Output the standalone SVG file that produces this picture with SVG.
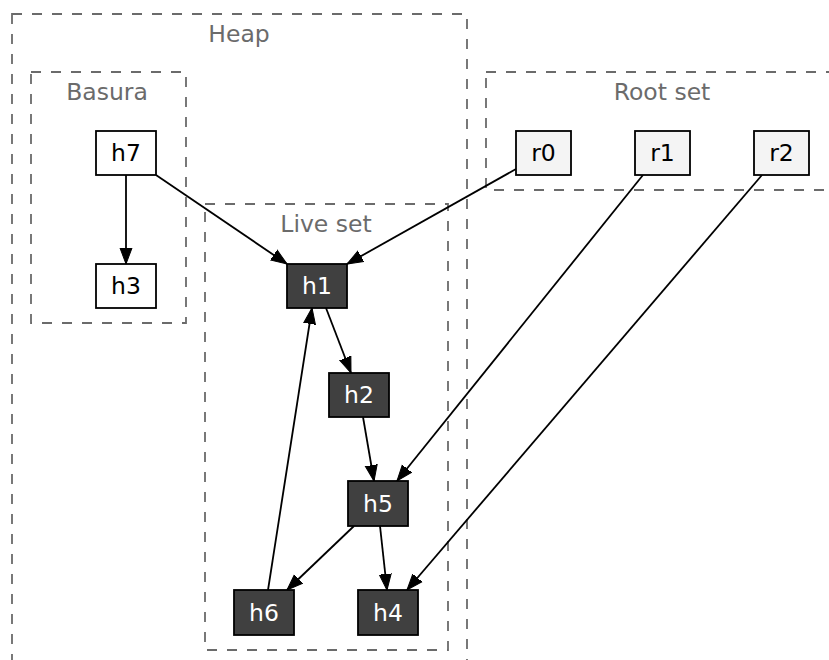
<svg xmlns="http://www.w3.org/2000/svg" width="829" height="660" viewBox="0 0 829 660">
<style>
.cl{fill:none;stroke:#6b6b6b;stroke-width:1.8;stroke-dasharray:10,10}
.cll{font-family:"DejaVu Sans",sans-serif;font-size:23.5px;fill:#6b6b6b;text-anchor:middle}
.n rect{stroke:#000;stroke-width:1.8}
.n text{font-family:"DejaVu Sans",sans-serif;font-size:23.5px;text-anchor:middle}
.w rect{fill:#fff}.w text{fill:#000}
.r rect{fill:#f4f4f4}.r text{fill:#000}
.d rect{fill:#404040}.d text{fill:#fff}
.e line{stroke:#000;stroke-width:1.8;marker-end:url(#ah)}
</style>
<defs>
<marker id="ah" markerUnits="userSpaceOnUse" markerWidth="20" markerHeight="16" refX="16" refY="0" viewBox="0 -8 20 16" orient="auto">
<path d="M0,-6 L16,0 L0,6 z" fill="#000" stroke="#000" stroke-width="1"/>
</marker>
</defs>
<rect width="829" height="660" fill="#fff"/>
<g id="clusters">
<g id="heap"><rect class="cl" x="12" y="14" width="455" height="680"/><text class="cll" x="239" y="42">Heap</text></g>
<g id="basura"><rect class="cl" x="31" y="72" width="155" height="251"/><text class="cll" x="107" y="100">Basura</text></g>
<g id="liveset"><rect class="cl" x="205" y="204" width="243" height="446"/><text class="cll" x="326" y="232">Live set</text></g>
<g id="rootset"><rect class="cl" x="486" y="72" width="380" height="118"/><text class="cll" x="662" y="100">Root set</text></g>
</g>
<g id="edges" class="e">
<line x1="126" y1="175" x2="126" y2="264"/>
<line x1="156" y1="175" x2="287" y2="264"/>
<line x1="516" y1="169" x2="347" y2="264"/>
<line x1="326" y1="308" x2="351" y2="373"/>
<line x1="363" y1="417" x2="374" y2="481"/>
<line x1="643" y1="175" x2="397" y2="481"/>
<line x1="354" y1="526" x2="287" y2="590"/>
<line x1="380" y1="526" x2="387" y2="590"/>
<line x1="762" y1="175" x2="407" y2="590"/>
<line x1="268" y1="590" x2="312" y2="308"/>
</g>
<g id="h7" class="n w"><rect x="96" y="131" width="60" height="44"/><text x="126" y="161">h7</text></g>
<g id="h3" class="n w"><rect x="96" y="264" width="60" height="44"/><text x="126" y="294">h3</text></g>
<g id="h1" class="n d"><rect x="287" y="264" width="60" height="44"/><text x="317" y="294">h1</text></g>
<g id="h2" class="n d"><rect x="329" y="373" width="60" height="44"/><text x="359" y="403">h2</text></g>
<g id="h5" class="n d"><rect x="348" y="481" width="60" height="45"/><text x="378" y="512">h5</text></g>
<g id="h6" class="n d"><rect x="234" y="590" width="60" height="45"/><text x="264" y="621">h6</text></g>
<g id="h4" class="n d"><rect x="358" y="590" width="60" height="45"/><text x="388" y="621">h4</text></g>
<g id="r0" class="n r"><rect x="516" y="131" width="55" height="44"/><text x="543.5" y="161">r0</text></g>
<g id="r1" class="n r"><rect x="635" y="131" width="55" height="44"/><text x="662.5" y="161">r1</text></g>
<g id="r2" class="n r"><rect x="754" y="131" width="55" height="44"/><text x="781.5" y="161">r2</text></g>
</svg>
